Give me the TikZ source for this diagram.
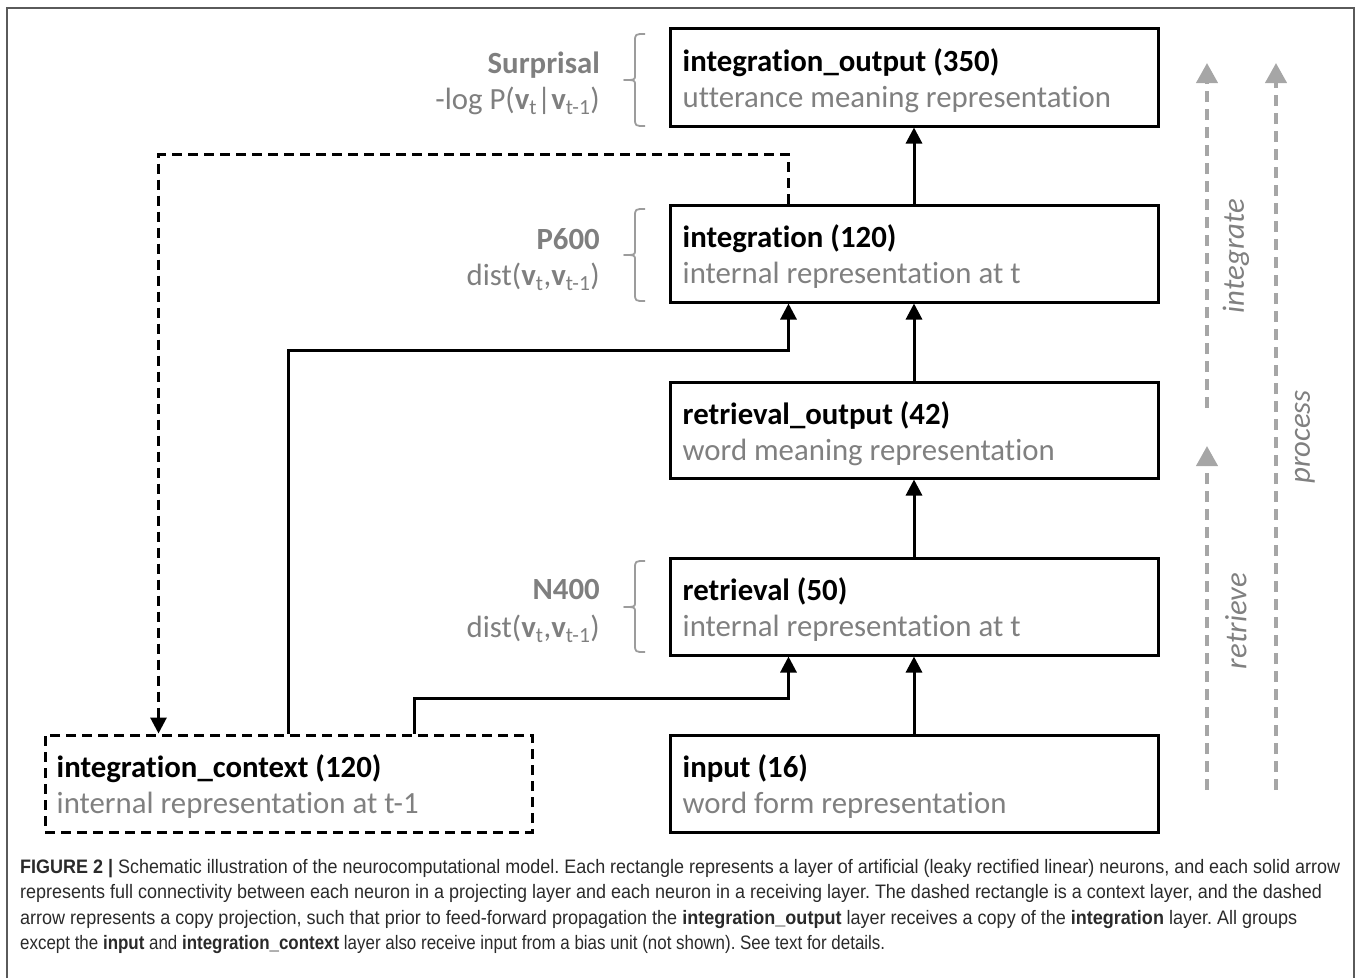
\documentclass[tikz,border=0pt]{standalone}
\usepackage{fontspec}
\usepackage{graphicx}
\setmainfont{Carlito}[Ligatures=NoCommon]
\newfontfamily\capfont{Liberation Sans}
\usetikzlibrary{arrows.meta,calc}
\definecolor{txtgray}{HTML}{808080}
\definecolor{lblgray}{HTML}{7F7F7F}
\definecolor{arrgray}{HTML}{A6A6A6}
\definecolor{bracegray}{HTML}{9C9C9C}
\definecolor{capcol}{HTML}{2A2A2A}
\definecolor{framecol}{HTML}{5A5A5A}
\frenchspacing
\tikzset{
  box/.style={draw=black, line width=3pt, minimum width=488pt, inner sep=0pt, fill=white},
  ctxbox/.style={box, minimum width=487pt, dash pattern=on 10pt off 6pt},
  title/.style={anchor=base west, inner sep=0pt, font=\fontsize{30.8}{36}\selectfont\bfseries},
  sub/.style={anchor=base west, inner sep=0pt, text=txtgray, font=\fontsize{30.8}{36}\selectfont},
  ltitle/.style={anchor=base east, inner sep=0pt, text=lblgray, font=\fontsize{30.8}{36}\selectfont\bfseries},
  lsub/.style={anchor=base east, inner sep=0pt, text=lblgray, font=\fontsize{30.8}{36}\selectfont},
  conn/.style={line width=3pt, -{Triangle[length=16pt,width=16pt]}},
  copyconn/.style={conn, dash pattern=on 10pt off 6pt},
  flow/.style={line width=4pt, draw=arrgray, dash pattern=on 11pt off 7pt, -{Triangle[length=20pt,width=21pt,fill=arrgray]}},
  flowlbl/.style={rotate=90, inner sep=0pt, text=txtgray, font=\fontsize{30.8}{36}\selectfont\itshape},
  brc/.style={draw=bracegray, line width=1.8pt, line join=round},
  capline/.style={anchor=base west, inner sep=0pt, text=capcol, font=\capfont\fontsize{19.5}{24}\selectfont},
}
\begin{document}
\begin{tikzpicture}[x=1pt,y=-1pt]
\useasboundingbox (0,0) rectangle (1358,978);
% frame
\draw[framecol, line width=2pt] (7,978) -- (7,8) -- (1354,8) -- (1354,978);

% layers
\node[box, minimum height=98pt] (io) at (914,77) {};
\node[box, minimum height=97pt] (integ) at (914,253.5) {};
\node[box, minimum height=96pt] (ro) at (914,430) {};
\node[box, minimum height=97pt] (ret) at (914,606.5) {};
\node[box, minimum height=97pt] (inp) at (914,783.5) {};
\node[ctxbox, minimum height=97pt] (ctx) at (288.5,783.5) {};

\node[title] (io-t) at ($(io.north west)+(14,45)$) {integration\_output (350)};
\node[sub] (io-s) at ($(io.north west)+(14,81)$) {utterance meaning representation};
\node[title] (integ-t) at ($(integ.north west)+(14,44)$) {integration (120)};
\node[sub] (integ-s) at ($(integ.north west)+(14,80)$) {internal representation at t};
\node[title] (ro-t) at ($(ro.north west)+(14,44)$) {retrieval\_output (42)};
\node[sub] (ro-s) at ($(ro.north west)+(14,80)$) {word meaning representation};
\node[title] (ret-t) at ($(ret.north west)+(14,44)$) {retrieval (50)};
\node[sub] (ret-s) at ($(ret.north west)+(14,80)$) {internal representation at t};
\node[title] (inp-t) at ($(inp.north west)+(14,44)$) {input (16)};
\node[sub] (inp-s) at ($(inp.north west)+(14,80)$) {word form representation};
\node[title] (ctx-t) at ($(ctx.north west)+(13,44)$) {integration\_context (120)};
\node[sub] (ctx-s) at ($(ctx.north west)+(13,80)$) {internal representation at t-1};

% left labels
\node[ltitle] (sur) at (600,73) {Surprisal};
\node[lsub] (sur-s) at (600,109) {-log P(\textbf{v}\textsubscript{t}|\textbf{v}\textsubscript{t-1})};
\node[ltitle] (p6) at (600,249) {P600};
\node[lsub] (p6-s) at (600,285) {dist(\textbf{v}\textsubscript{t},\textbf{v}\textsubscript{t-1})};
\node[ltitle] (n4) at (600,599) {N400};
\node[lsub] (n4-s) at (600,637) {dist(\textbf{v}\textsubscript{t},\textbf{v}\textsubscript{t-1})};

% brackets
\draw[brc] (645,34) .. controls (635,34) .. (635,42) -- (635,75) .. controls (635,80) .. (624,80) .. controls (635,80) .. (635,85) -- (635,118) .. controls (635,126) .. (645,126);
\draw[brc] (645,209) .. controls (635,209) .. (635,217) -- (635,250) .. controls (635,255) .. (624,255) .. controls (635,255) .. (635,260) -- (635,293) .. controls (635,301) .. (645,301);
\draw[brc] (645,561) .. controls (635,561) .. (635,569) -- (635,602) .. controls (635,607) .. (624,607) .. controls (635,607) .. (635,612) -- (635,644) .. controls (635,652) .. (645,652);

% main connectors
\draw[conn] (inp.north) -- (ret.south);
\draw[conn] (ret.north) -- (ro.south);
\draw[conn] (ro.north) -- (integ.south);
\draw[conn] (integ.north) -- (io.south);
\draw[conn] ($(ctx.north west)+(371,0)$) -- ++(0,-35) -| ($(ret.south west)+(120,0)$);
\draw[conn] (ctx.north) -- ++(0,-383) -| ($(integ.south west)+(120,0)$);
\draw[copyconn] ($(integ.north west)+(120,0)$) -- ++(0,-49) -| ($(ctx.north west)+(115,0)$);

% flow arrows
\coordinate (intB) at (1207,408);
\coordinate (intT) at (1207,63);
\coordinate (retB) at (1207,790);
\coordinate (retT) at (1207,446);
\coordinate (proB) at (1276,790);
\coordinate (proT) at (1276,63);
\draw[flow] (intB) -- (intT);
\draw[flow] (retB) -- (retT);
\draw[flow] (proB) -- (proT);
\node[flowlbl] (lint) at (1236,256) {integrate};
\node[flowlbl] (lret) at (1236,621) {retrieve};
\node[flowlbl] (lpro) at (1305,437) {process};

% caption
\node[capline] (c1) at (20,873) {\resizebox{1320pt}{\height}{\textbf{FIGURE 2 |} Schematic illustration of the neurocomputational model. Each rectangle represents a layer of artificial (leaky rectified linear) neurons, and each solid arrow}};
\node[capline] (c2) at (20,898.5) {\resizebox{1302pt}{\height}{represents full connectivity between each neuron in a projecting layer and each neuron in a receiving layer. The dashed rectangle is a context layer, and the dashed}};
\node[capline] (c3) at (20,924) {\resizebox{1277pt}{\height}{arrow represents a copy projection, such that prior to feed-forward propagation the \textbf{integration\_output} layer receives a copy of the \textbf{integration} layer. All groups}};
\node[capline] (c4) at (20,949.5) {\resizebox{865pt}{\height}{except the \textbf{input} and \textbf{integration\_context} layer also receive input from a bias unit (not shown). See text for details.}};
\end{tikzpicture}
\end{document}
